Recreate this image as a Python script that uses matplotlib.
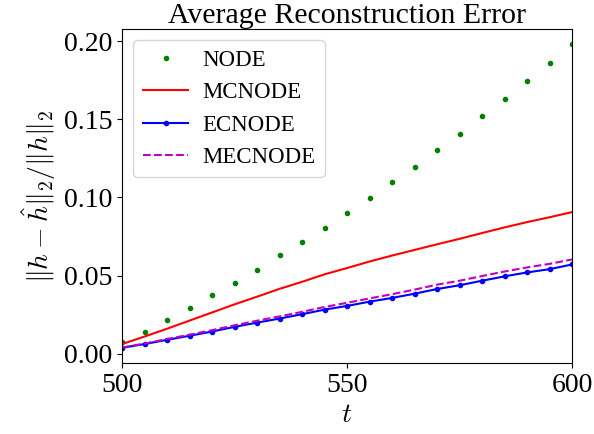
import numpy as np
import matplotlib
matplotlib.use("Agg")
import matplotlib.pyplot as plt

plt.rcParams['font.family'] = ['Liberation Serif', 'DejaVu Serif']
plt.rcParams['mathtext.fontset'] = 'cm'

# time samples every 5 steps
t = np.arange(500, 601, 5)

node = [0.0074, 0.0142, 0.0217, 0.0293, 0.0374, 0.0454, 0.0535, 0.0629, 0.0715, 0.0807, 0.0900,
        0.0995, 0.1096, 0.1195, 0.1304, 0.1408, 0.1518, 0.1628, 0.1743, 0.1860, 0.1980]
mcnode = [0.0062, 0.0110, 0.0160, 0.0212, 0.0264, 0.0316, 0.0365, 0.0415, 0.0460, 0.0508, 0.0548,
          0.0590, 0.0628, 0.0664, 0.0700, 0.0735, 0.0772, 0.0808, 0.0842, 0.0873, 0.0906]
ecnode = [0.0038, 0.0062, 0.0089, 0.0115, 0.0142, 0.0172, 0.0199, 0.0225, 0.0253, 0.0282, 0.0306,
          0.0333, 0.0357, 0.0384, 0.0414, 0.0438, 0.0467, 0.0495, 0.0520, 0.0541, 0.0571]
mecnode = [0.0040, 0.0065, 0.0094, 0.0122, 0.0151, 0.0182, 0.0211, 0.0239, 0.0268, 0.0299, 0.0326,
           0.0354, 0.0381, 0.0410, 0.0442, 0.0467, 0.0497, 0.0526, 0.0552, 0.0575, 0.0603]

fig = plt.figure(figsize=(5.94, 4.34), dpi=100)
ax = fig.add_axes([0.2054, 0.1636, 0.7576, 0.7696])

ax.plot(t, node, 'g.', label='NODE')
ax.plot(t, mcnode, 'r-', label='MCNODE')
ax.plot(t, ecnode, 'b.-', label='ECNODE')
ax.plot(t, mecnode, 'm--', label='MECNODE')

ax.set_xlim(500, 600)
ax.set_xticks([500, 550, 600])
ax.set_yticks([0.0, 0.05, 0.10, 0.15, 0.20])
ax.tick_params(labelsize=20)
ax.set_xlabel(r'$t$', fontsize=20)
ax.set_ylabel(r'$\|h-\hat{h}\|_2/\|h\|_2$', fontsize=20)
ax.set_title('Average Reconstruction Error', fontsize=21.5, pad=4)
ax.legend(loc='upper left', fontsize=16.5, handletextpad=0.6)

fig.savefig('out.png', dpi=100)
